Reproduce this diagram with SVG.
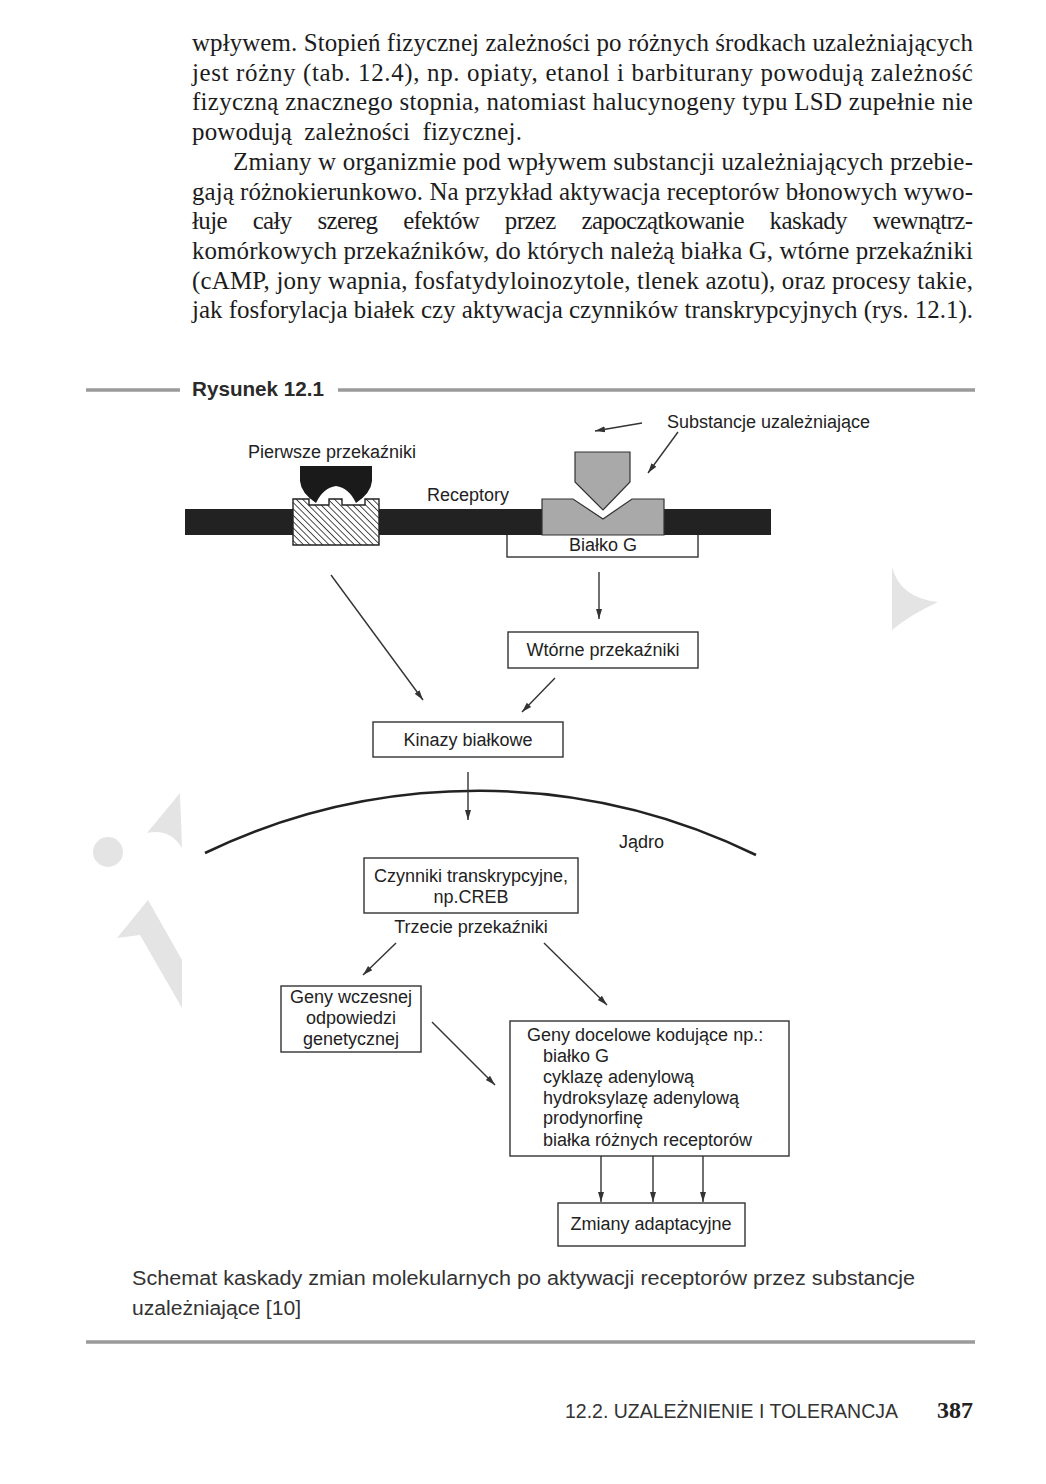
<svg xmlns="http://www.w3.org/2000/svg" width="1046" height="1484" viewBox="0 0 1046 1484">
<defs>
<style>
.body{font-family:"Liberation Serif","Times New Roman",serif;font-size:26px;fill:#1c1c1c}
.lbl{font-family:"Liberation Sans",Arial,sans-serif;font-size:18px;fill:#222}
.cap{font-family:"Liberation Sans",Arial,sans-serif;font-size:20px;fill:#333}
.box{fill:#fff;stroke:#333;stroke-width:1.4}
.conn line{stroke:#333;stroke-width:1.4;fill:none;marker-end:url(#ah)}
.rule{stroke:#9a9a9a;stroke-width:3.5}
.wm{fill:#e4e4e4}
.gray{fill:#a9a9a9;stroke:#333;stroke-width:1.2}
</style>
<marker id="ah" viewBox="0 0 10 10" refX="10" refY="5" markerWidth="10" markerHeight="10" markerUnits="userSpaceOnUse" orient="auto">
<path d="M0,2 L10,5 L0,8 Z" fill="#333"/>
</marker>
<pattern id="hatch" patternUnits="userSpaceOnUse" width="4.5" height="4.5" patternTransform="rotate(-45)">
<rect width="4.5" height="4.5" fill="#fff"/>
<line x1="0" y1="0" x2="0" y2="4.5" stroke="#222" stroke-width="1.6"/>
</pattern>
</defs>
<rect width="1046" height="1484" fill="#fff"/>

<!-- watermark -->
<g id="watermark">
<circle class="wm" cx="108" cy="852" r="15"/>
<path class="wm" d="M180,793 L182,848 Q170,828 147,833 Z"/>
<path class="wm" d="M148,900 L182,960 L182,1008 L140,935 L117,938 Z"/>
<path class="wm" d="M892,567 Q900,598 938,602 Q910,615 892,630 Z"/>
</g>

<!-- body text -->
<g id="body-text" transform="scale(0.96,1)">
<text class="body" x="200" y="51" textLength="813.5" lengthAdjust="spacing">wpływem. Stopień fizycznej zależności po różnych środkach uzależniających</text>
<text class="body" x="200" y="81" textLength="813.5" lengthAdjust="spacing">jest różny (tab. 12.4), np. opiaty, etanol i barbiturany powodują zależność</text>
<text class="body" x="200" y="110" textLength="813.5" lengthAdjust="spacing">fizyczną znacznego stopnia, natomiast halucynogeny typu LSD zupełnie nie</text>
<text class="body" x="200" y="140" textLength="343.7" lengthAdjust="spacing" word-spacing="6">powodują zależności fizycznej.</text>
<text class="body" x="242.7" y="170" textLength="770.8" lengthAdjust="spacing">Zmiany w organizmie pod wpływem substancji uzależniających przebie-</text>
<text class="body" x="200" y="200" textLength="813.5" lengthAdjust="spacing">gają różnokierunkowo. Na przykład aktywacja receptorów błonowych wywo-</text>
<text class="body" x="200" y="229" textLength="813.5" lengthAdjust="spacing" word-spacing="21">łuje cały szereg efektów przez zapoczątkowanie kaskady wewnątrz-</text>
<text class="body" x="200" y="259" textLength="813.5" lengthAdjust="spacing">komórkowych przekaźników, do których należą białka G, wtórne przekaźniki</text>
<text class="body" x="200" y="289" textLength="813.5" lengthAdjust="spacing">(cAMP, jony wapnia, fosfatydyloinozytole, tlenek azotu), oraz procesy takie,</text>
<text class="body" x="200" y="318" textLength="813.5" lengthAdjust="spacing">jak fosforylacja białek czy aktywacja czynników transkrypcyjnych (rys. 12.1).</text>
</g>

<!-- figure header -->
<g id="figure-header">
<line class="rule" x1="86" y1="390" x2="180" y2="390"/>
<text x="192" y="396" textLength="132" lengthAdjust="spacingAndGlyphs" style="font-family:'Liberation Sans',Arial,sans-serif;font-size:21px;font-weight:bold;fill:#2a2a2a">Rysunek 12.1</text>
<line class="rule" x1="338" y1="390" x2="975" y2="390"/>
</g>

<!-- membrane -->
<g id="bialko-g">
<rect class="box" x="507" y="528" width="191" height="29"/>
<text class="lbl" x="603" y="551" text-anchor="middle">Białko G</text>
</g>
<g id="membrane">
<rect x="185" y="509" width="586" height="26" fill="#222"/>
</g>
<g id="receptor-1">
<path d="M293,499 L309,499 L309,505 L329,505 L329,499 L342,499 L342,505 L365,505 L365,499 L379,499 L379,545 L293,545 Z" fill="url(#hatch)" stroke="#222" stroke-width="1.4"/>
</g>
<g id="pierwsze-przekazniki">
<path d="M300,466 L372,466 L372,481 Q371,493 356,503 Q349,488 336,486 Q323,488 316,503 Q301,493 300,481 Z" fill="#1a1a1a"/>
<text class="lbl" x="248" y="458">Pierwsze przekaźniki</text>
</g>
<g id="receptory">
<text class="lbl" x="427" y="501">Receptory</text>
</g>
<g id="receptor-2">
<path d="M573,499 L603,519 L632,499 Z" fill="#fff"/>
<path class="gray" d="M542,499 L573,499 L603,519 L632,499 L664,499 L664,535 L542,535 Z"/>
</g>
<g id="substancja">
<path class="gray" d="M575,452 L630,452 L630,482 L603,510 L575,482 Z"/>
<text class="lbl" x="667" y="428">Substancje uzależniające</text>
</g>

<!-- nodes -->
<g id="wtorne">
<rect class="box" x="508" y="632" width="190" height="36"/>
<text class="lbl" x="603" y="656" text-anchor="middle">Wtórne przekaźniki</text>
</g>
<g id="kinazy">
<rect class="box" x="373" y="722" width="190" height="35"/>
<text class="lbl" x="468" y="746" text-anchor="middle">Kinazy białkowe</text>
</g>
<g id="jadro">
<path d="M205,853 A632,632 0 0 1 756,855" fill="none" stroke="#222" stroke-width="2.6"/>
<text class="lbl" x="619" y="848">Jądro</text>
</g>
<g id="czynniki">
<rect class="box" x="364" y="858" width="214" height="55"/>
<text class="lbl" x="471" y="882" text-anchor="middle">Czynniki transkrypcyjne,</text>
<text class="lbl" x="471" y="903" text-anchor="middle">np.CREB</text>
<text class="lbl" x="471" y="933" text-anchor="middle">Trzecie przekaźniki</text>
</g>
<g id="geny-wczesnej">
<rect class="box" x="281" y="986" width="140" height="66"/>
<text class="lbl" x="351" y="1003" text-anchor="middle">Geny wczesnej</text>
<text class="lbl" x="351" y="1024" text-anchor="middle">odpowiedzi</text>
<text class="lbl" x="351" y="1045" text-anchor="middle">genetycznej</text>
</g>
<g id="geny-docelowe">
<rect class="box" x="510" y="1021" width="279" height="135"/>
<text class="lbl" x="527" y="1041">Geny docelowe kodujące np.:</text>
<text class="lbl" x="543" y="1062">białko G</text>
<text class="lbl" x="543" y="1083">cyklazę adenylową</text>
<text class="lbl" x="543" y="1104">hydroksylazę adenylową</text>
<text class="lbl" x="543" y="1124">prodynorfinę</text>
<text class="lbl" x="543" y="1146">białka różnych receptorów</text>
</g>
<g id="zmiany">
<rect class="box" x="558" y="1203" width="187" height="43"/>
<text class="lbl" x="651" y="1230" text-anchor="middle">Zmiany adaptacyjne</text>
</g>

<!-- connectors -->
<g id="connectors" class="conn">
<line x1="642" y1="423" x2="595" y2="431"/>
<line x1="678" y1="432" x2="648" y2="473"/>
<line x1="331" y1="575" x2="423" y2="700"/>
<line x1="599" y1="572" x2="599" y2="619"/>
<line x1="555" y1="678" x2="522" y2="712"/>
<line x1="468" y1="772" x2="468" y2="820"/>
<line x1="396" y1="943" x2="363" y2="975"/>
<line x1="544" y1="943" x2="607" y2="1005"/>
<line x1="432" y1="1022" x2="495" y2="1085"/>
<line x1="601" y1="1156" x2="601" y2="1202"/>
<line x1="653" y1="1156" x2="653" y2="1202"/>
<line x1="703" y1="1156" x2="703" y2="1202"/>
</g>

<!-- caption -->
<g id="caption">
<text class="cap" x="132" y="1285" textLength="783" lengthAdjust="spacingAndGlyphs">Schemat kaskady zmian molekularnych po aktywacji receptorów przez substancje</text>
<text class="cap" x="132" y="1315" textLength="169" lengthAdjust="spacingAndGlyphs">uzależniające [10]</text>
<line class="rule" x1="86" y1="1342" x2="975" y2="1342"/>
</g>

<!-- footer -->
<g id="footer">
<text class="cap" x="565" y="1418" textLength="333" lengthAdjust="spacingAndGlyphs">12.2. UZALEŻNIENIE I TOLERANCJA</text>
<text x="937" y="1418" textLength="36" lengthAdjust="spacingAndGlyphs" style="font-family:'Liberation Serif',serif;font-size:23px;font-weight:bold;fill:#222">387</text>
</g>
</svg>
